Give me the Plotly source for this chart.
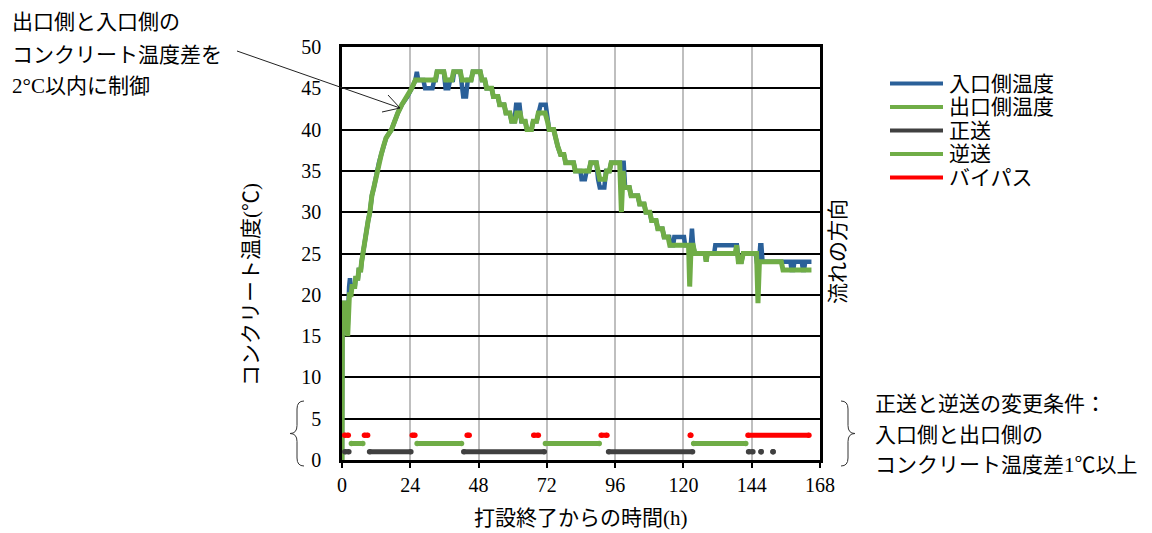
import plotly.graph_objects as go

FONT = "Liberation Serif, Noto Sans CJK JP, serif"

# ---- concrete temperature: (hours after placing finished, °C) ----
inlet_temp = [
    (0, 0), (0.15, 19), (1.3, 19), (2.0, 16), (2.5, 21), (2.8, 22), (3.1, 21), (4.5, 21),
    (4.8, 22), (5.6, 22), (5.9, 23), (6.6, 23), (6.9, 24), (7.3, 25), (7.9, 26), (8.4, 27),
    (8.8, 28), (9.2, 29), (9.8, 30), (10.1, 31), (10.5, 32), (11.2, 33), (11.8, 34), (12.2, 35),
    (13.0, 36), (13.8, 37), (14.6, 38), (15.5, 39), (17.4, 40), (18.4, 41), (19.6, 42), (21.0, 43),
    (23.0, 44), (24.5, 45), (25.8, 46), (26.3, 47), (26.8, 46), (28.6, 46), (29.2, 45), (31.8, 45),
    (32.4, 46), (33.0, 46), (33.4, 47), (35.8, 47), (36.4, 45), (37.4, 45), (38.0, 46), (39.0, 46),
    (39.4, 47), (41.6, 47), (42.2, 45), (42.6, 44), (43.6, 44), (44.2, 46), (45.4, 46), (46.0, 47),
    (48.6, 47), (49.2, 46), (50.2, 46), (50.8, 45), (52.6, 45), (53.2, 44), (54.8, 44), (55.4, 43),
    (57.0, 43), (57.6, 42), (59.0, 42), (59.6, 41), (60.6, 41), (61.2, 43), (62.4, 43), (63.0, 41),
    (64.4, 41), (65.0, 40), (66.6, 40), (67.2, 41), (68.4, 41), (69.0, 42), (69.8, 43), (71.6, 43),
    (72.2, 41), (72.8, 40), (74.4, 40), (75.0, 39), (75.8, 38), (76.8, 37), (78.0, 37), (78.6, 36),
    (81.4, 36), (82.0, 35), (83.8, 35), (84.2, 34), (85.4, 34), (86.0, 35), (86.8, 35), (87.4, 36),
    (89.4, 36), (90.0, 34), (90.6, 33), (92.2, 33), (92.8, 35), (94.0, 35), (94.6, 36), (99.0, 36),
    (99.5, 33), (101.0, 33), (101.6, 32), (104.0, 32), (104.6, 31), (106.2, 31), (106.8, 30),
    (108.2, 30), (108.8, 29), (110.4, 29), (111.0, 28), (112.6, 28), (113.2, 27), (115.0, 27),
    (115.4, 26), (116.4, 26), (116.8, 27), (120.2, 27), (120.6, 26), (122.6, 26), (123.0, 28),
    (123.4, 26), (124.0, 25), (127.6, 25), (128.0, 24), (128.4, 25), (130.8, 25), (131.2, 26),
    (138.8, 26), (139.4, 24), (140.4, 24), (141.0, 25), (145.4, 25), (145.8, 24), (146.6, 24),
    (147.0, 26), (147.4, 26), (147.8, 24), (157.6, 24), (158.0, 23), (158.6, 23), (159.0, 24),
    (161.6, 24), (162.0, 23), (162.4, 23), (162.8, 24), (165.0, 24),
]

outlet_temp = [
    (0, 0), (0.15, 19), (1.3, 19), (2.0, 15), (2.6, 20), (3.2, 20), (3.5, 21), (4.5, 21),
    (4.8, 22), (5.6, 22), (5.9, 23), (6.6, 23), (6.9, 24), (7.3, 25), (7.9, 26), (8.4, 27),
    (8.8, 28), (9.2, 29), (9.8, 30), (10.1, 31), (10.5, 32), (11.2, 33), (11.8, 34), (12.2, 35),
    (13.0, 36), (13.8, 37), (14.6, 38), (15.5, 39), (17.4, 40), (18.4, 41), (19.6, 42), (21.0, 43),
    (23.0, 44), (24.5, 45), (25.8, 46), (32.8, 46), (33.4, 47), (35.8, 47), (36.4, 46), (38.6, 46),
    (39.2, 47), (41.6, 47), (42.2, 46), (45.4, 46), (46.0, 47), (48.6, 47), (49.2, 46), (50.2, 46),
    (50.8, 45), (52.6, 45), (53.2, 44), (54.8, 44), (55.4, 43), (57.0, 43), (57.6, 42), (59.0, 42),
    (59.6, 41), (60.8, 41), (61.4, 42), (62.6, 42), (63.2, 41), (64.4, 41), (65.0, 40), (66.6, 40),
    (67.2, 41), (68.4, 41), (69.0, 42), (71.4, 42), (72.2, 41), (72.8, 40), (74.4, 40), (75.0, 39),
    (75.8, 38), (76.8, 37), (78.0, 37), (78.6, 36), (81.4, 36), (82.0, 35), (86.8, 35), (87.4, 36),
    (89.4, 36), (90.0, 35), (90.6, 34), (92.4, 34), (93.0, 35), (94.0, 35), (94.6, 36), (97.6, 36),
    (98.2, 30), (98.8, 35), (99.2, 33), (101.0, 33), (101.6, 32), (104.0, 32), (104.6, 31),
    (106.2, 31), (106.8, 30), (108.2, 30), (108.8, 29), (110.4, 29), (111.0, 28), (112.6, 28),
    (113.2, 27), (114.6, 27), (115.2, 26), (121.8, 26), (122.2, 21), (122.7, 26), (123.4, 26),
    (124.0, 25), (127.6, 25), (128.0, 24), (128.4, 25), (138.2, 25), (138.7, 26), (139.3, 24),
    (140.4, 24), (141.0, 25), (145.7, 25), (146.2, 19), (146.7, 24), (154.4, 24), (155.0, 23),
    (165.0, 23),
]

# ---- flow direction periods (start hour, end hour); plotted at levels 1 / 2 / 3 ----
forward_periods = [(1.0, 2.4), (9.7, 24.2), (42.8, 71.1), (93.7, 123.2), (142.9, 144.4),
                   (147.3, 147.3), (151.5, 151.5)]
reverse_periods = [(3.3, 7.3), (26.4, 42.0), (71.5, 90.4), (123.6, 141.9)]
bypass_periods = [(0.9, 2.2), (7.9, 9.0), (24.7, 25.6), (44.0, 44.7), (67.4, 69.0),
                  (91.1, 93.1), (122.4, 122.6), (142.7, 164.1)]

x_ticks = [0, 24, 48, 72, 96, 120, 144, 168]
y_ticks = [0, 5, 10, 15, 20, 25, 30, 35, 40, 45, 50]

BLUE = "#2a6099"
GREEN = "#70ad47"
DARK = "#404040"
RED = "#ff0000"

# plot area in pixels
L, R, T, B = 342, 820, 47, 460
W, H = 1152, 533


def px(x):
    return (x - L) / (R - L)


def py(y):
    return (B - y) / (B - T)


def segments(periods, level):
    xs, ys = [], []
    for s, e in periods:
        xs += [s, e, None]
        ys += [level, level, None]
    return xs, ys


fig = go.Figure()

temp_series = [("入口側温度", inlet_temp, BLUE, 4.5), ("出口側温度", outlet_temp, GREEN, 5)]
for name, pts, color, width in temp_series:
    fig.add_trace(go.Scatter(
        x=[p[0] for p in pts], y=[p[1] for p in pts], name=name, mode="lines",
        line=dict(color=color, width=width), showlegend=False))

flow_series = [("正送", forward_periods, 1, DARK), ("逆送", reverse_periods, 2, GREEN),
               ("バイパス", bypass_periods, 3, RED)]
for name, periods, level, color in flow_series:
    xs, ys = segments(periods, level)
    fig.add_trace(go.Scatter(
        x=xs, y=ys, name=name, mode="lines+markers",
        line=dict(color=color, width=5), marker=dict(color=color, size=5.5),
        showlegend=False))

shapes = []
annotations = []

# legend drawn beside the plot
legend_rows = [(n, c) for n, _, c, _ in temp_series] + [(n, c) for n, _, _, c in flow_series]
for i, (name, color) in enumerate(legend_rows):
    yy = 83.5 + i * 23.5
    shapes.append(dict(type="line", xref="paper", yref="paper",
                       x0=px(890), x1=px(943), y0=py(yy), y1=py(yy),
                       line=dict(color=color, width=4)))
    annotations.append(dict(text=name, xref="paper", yref="paper", x=px(947), y=py(yy),
                            xanchor="left", yanchor="middle", showarrow=False,
                            font=dict(size=21, color="#000")))

# axis titles
annotations.append(dict(text="コンクリート温度(℃)", xref="paper", yref="paper",
                        x=px(251), y=py(285), textangle=-90, showarrow=False,
                        xanchor="center", yanchor="middle", font=dict(size=21)))
annotations.append(dict(text="打設終了からの時間(h)", xref="paper", yref="paper",
                        x=px(581), y=py(518), showarrow=False,
                        xanchor="center", yanchor="middle", font=dict(size=21)))
annotations.append(dict(text="流れの方向", xref="paper", yref="paper",
                        x=px(838), y=py(252), textangle=-90, showarrow=False,
                        xanchor="center", yanchor="middle", font=dict(size=21)))

# note on the temperature difference
for txt, yy in [("出口側と入口側の", 22), ("コンクリート温度差を", 55), ("2°C以内に制御", 86)]:
    annotations.append(dict(text=txt, xref="paper", yref="paper", x=px(10), y=py(yy),
                            xanchor="left", yanchor="middle", showarrow=False,
                            font=dict(size=21)))
for a, b in [((237, 51), (400, 108)), ((388, 95), (400, 108)), ((382, 112), (400, 108))]:
    shapes.append(dict(type="line", xref="paper", yref="paper",
                       x0=px(a[0]), y0=py(a[1]), x1=px(b[0]), y1=py(b[1]),
                       line=dict(color="#222", width=1)))

# note on the switching condition
for txt, yy in [("正送と逆送の変更条件：", 404), ("入口側と出口側の", 435), ("コンクリート温度差1℃以上", 465)]:
    annotations.append(dict(text=txt, xref="paper", yref="paper", x=px(873), y=py(yy),
                            xanchor="left", yanchor="middle", showarrow=False,
                            font=dict(size=21)))


def brace(x_edge, x_mid, x_tip, top, bot):
    mid = (top + bot) / 2
    r = 8
    pts = [
        f"M {px(x_edge)},{py(top)}",
        f"Q {px(x_mid)},{py(top)} {px(x_mid)},{py(top + r)}",
        f"L {px(x_mid)},{py(mid - r)}",
        f"Q {px(x_mid)},{py(mid)} {px(x_tip)},{py(mid)}",
        f"Q {px(x_mid)},{py(mid)} {px(x_mid)},{py(mid + r)}",
        f"L {px(x_mid)},{py(bot - r)}",
        f"Q {px(x_mid)},{py(bot)} {px(x_edge)},{py(bot)}",
    ]
    return dict(type="path", xref="paper", yref="paper", path=" ".join(pts),
                line=dict(color="#333", width=1))


shapes.append(brace(304, 297, 290, 401, 466))
shapes.append(brace(841, 848, 855, 401, 466))

fig.update_layout(
    width=W, height=H,
    margin=dict(l=L, r=W - R, t=T, b=H - B),
    paper_bgcolor="white", plot_bgcolor="white",
    font=dict(family=FONT, size=21, color="#000"),
    shapes=shapes, annotations=annotations, showlegend=False,
    xaxis=dict(range=[0, 168], tickvals=x_ticks, ticktext=[str(v) for v in x_ticks],
               showgrid=True, gridcolor="#bfbfbf", gridwidth=2,
               showline=True, linecolor="#000", linewidth=2.5, mirror=True,
               ticks="outside", ticklen=5, tickwidth=2, tickcolor="#000",
               zeroline=False, tickfont=dict(size=20)),
    yaxis=dict(range=[0, 50], tickvals=y_ticks, ticktext=[str(v) for v in y_ticks],
               showgrid=True, gridcolor="#000", gridwidth=2,
               showline=True, linecolor="#000", linewidth=2.5, mirror=True,
               ticks="", zeroline=False, tickfont=dict(size=20),
               ticklabelstandoff=14),
)

fig.write_html("out.html")
